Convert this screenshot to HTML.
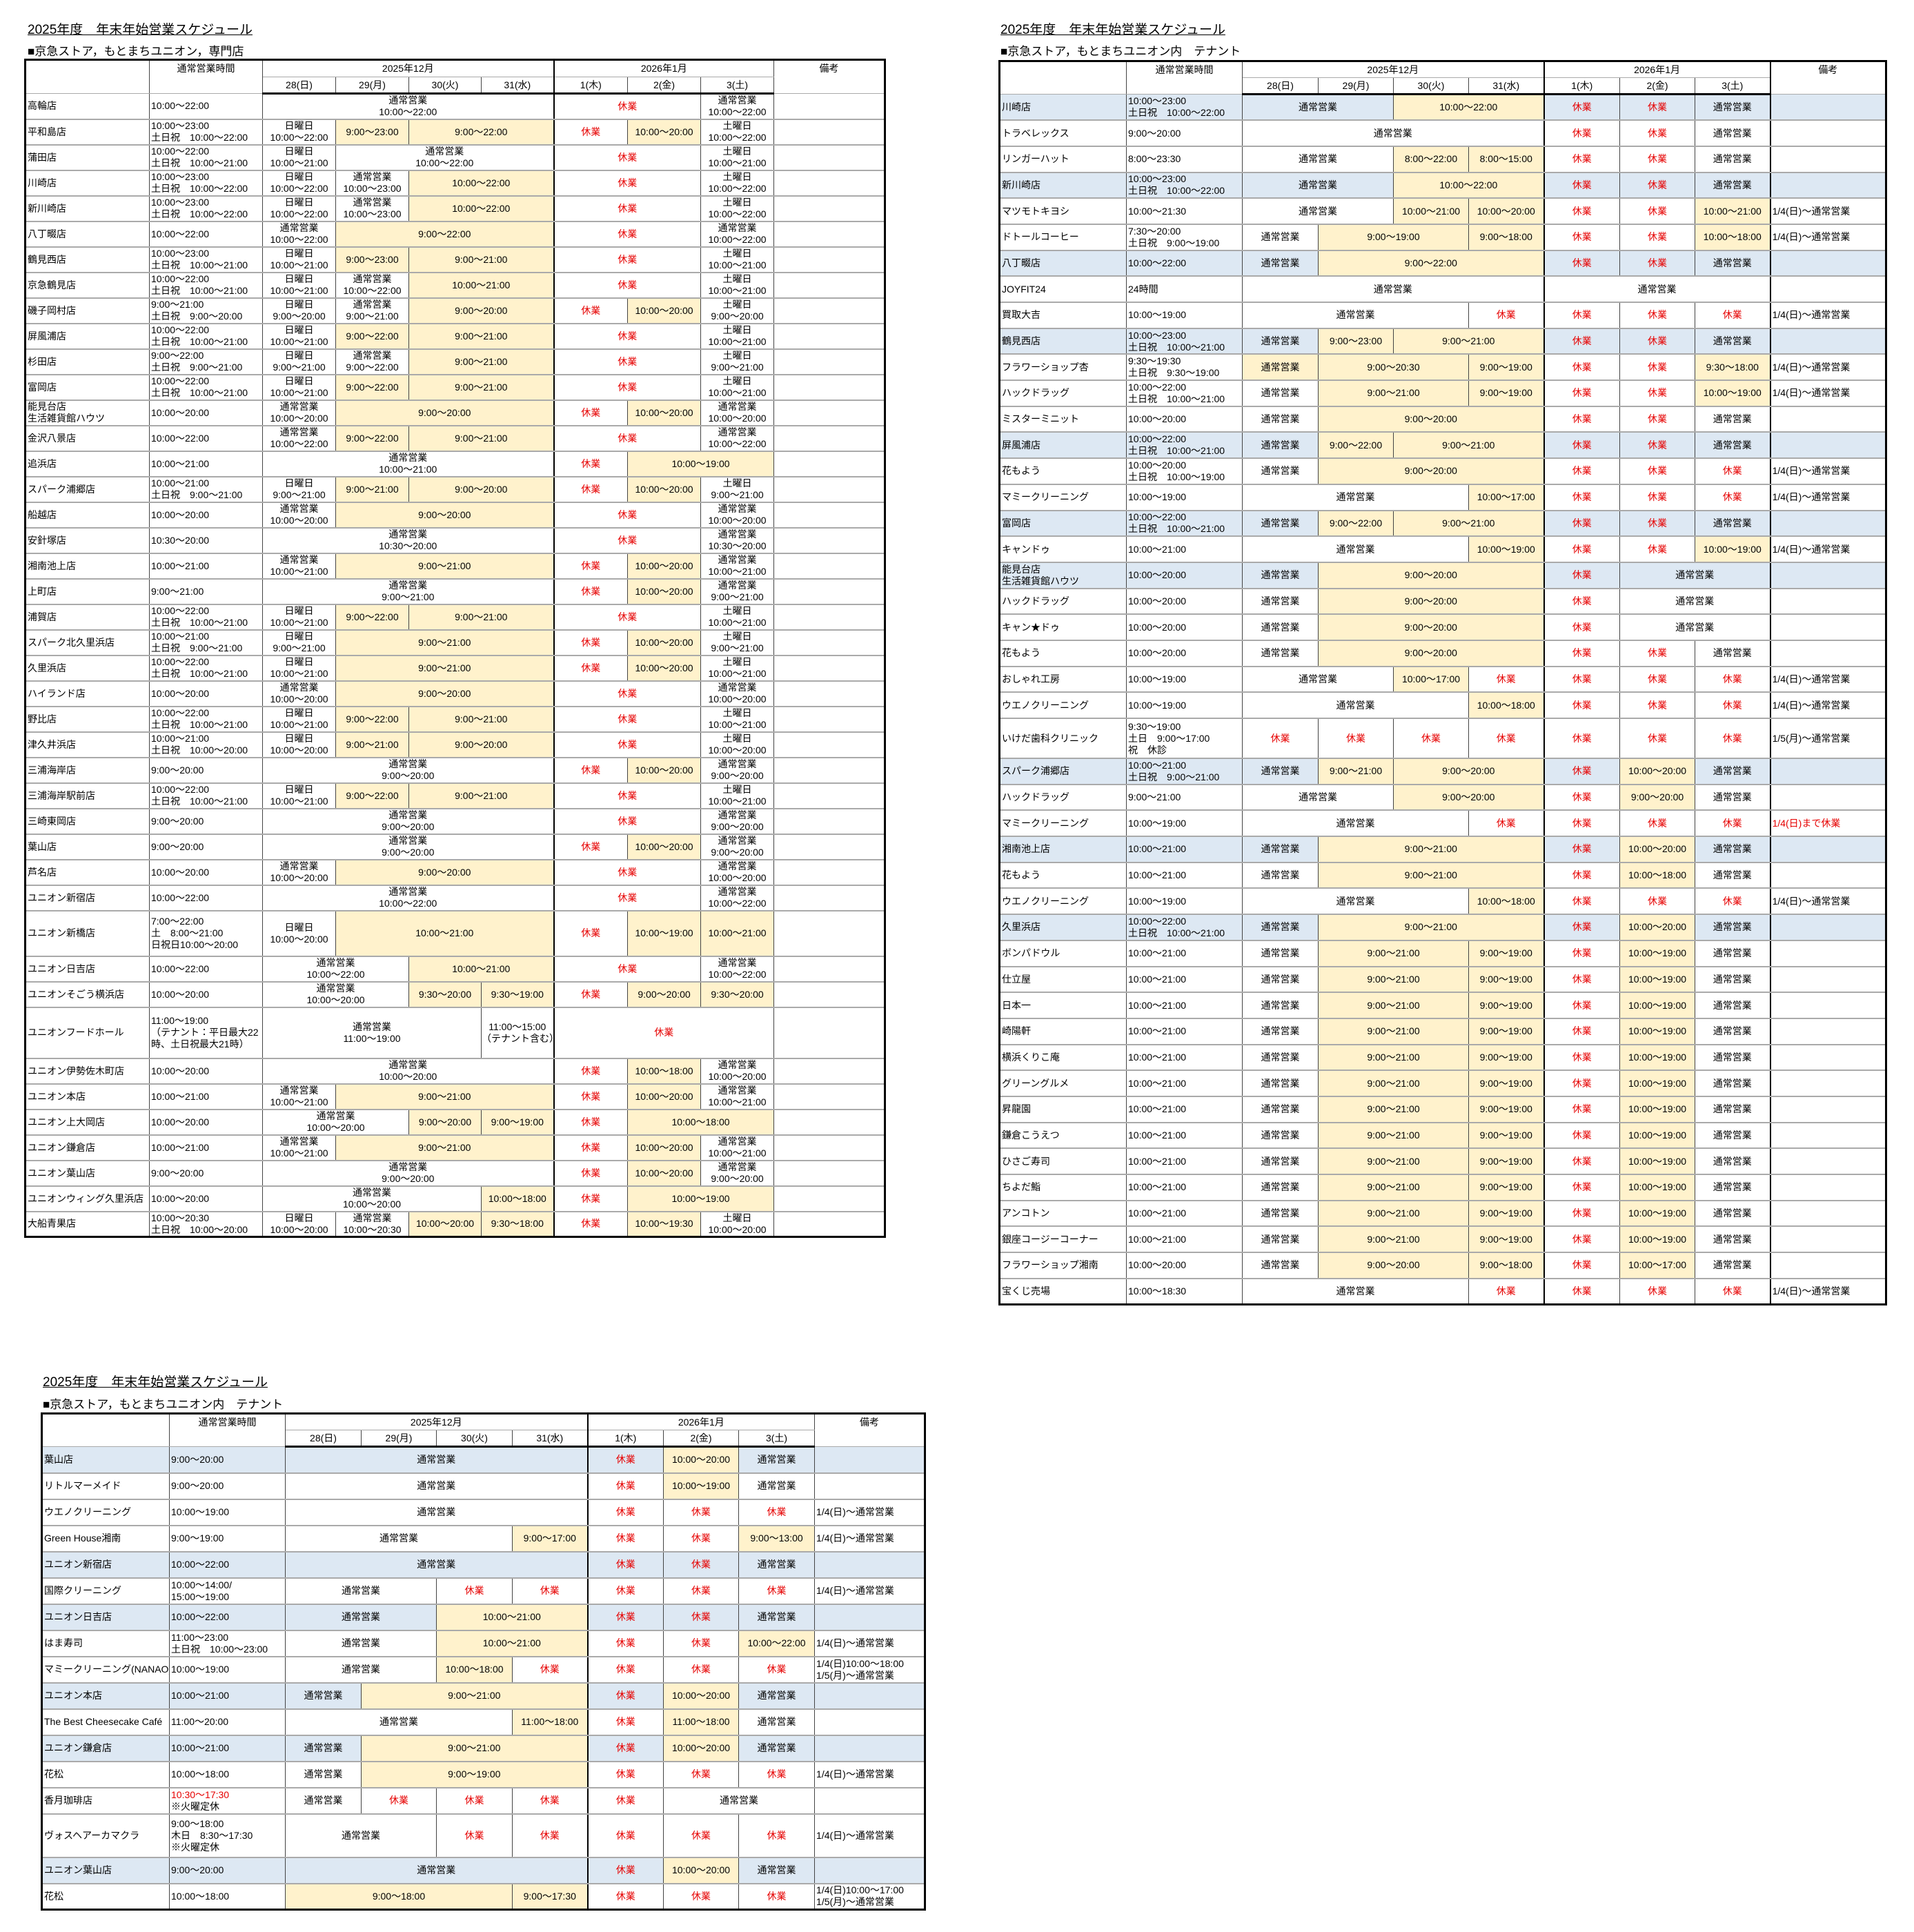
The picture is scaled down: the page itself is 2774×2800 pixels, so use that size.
<!DOCTYPE html>
<html><head><meta charset="utf-8">
<style>
body{margin:0;width:2774px;height:2800px;background:#fff;position:relative;font-family:"Liberation Sans","Noto Sans CJK JP",sans-serif;color:#000}
.t{position:absolute;font-size:19px;text-decoration:underline;white-space:nowrap}
.s{position:absolute;font-size:17px;white-space:nowrap}
table{position:absolute;border-collapse:collapse;table-layout:fixed;font-size:14px;line-height:17px;border:3px solid #000}
td{border-left:1px solid #444;border-right:1px solid #444;border-bottom:2px solid #aaa;text-align:center;vertical-align:middle;padding:0;overflow:hidden;white-space:nowrap}
td.n,td.h{text-align:left;padding-left:2px}
tr.hd td{border-bottom:1px solid #aaa}
tr.hd2 td{border-bottom:3px solid #000}
td.tp{vertical-align:top;padding-top:3px;border-bottom:3px solid #000}
.y{background:#fff2cc}
.r{color:#e60000}
tr.b td{background:#dde8f3}
tr.b td.y{background:#fff2cc}
col.j{border-left:2px solid #000}
</style></head><body>

<div class="t" style="left:40px;top:28px">2025年度　年末年始営業スケジュール</div>
<div class="s" style="left:40px;top:60px">■京急ストア，もとまちユニオン，専門店</div>
<div class="t" style="left:1450px;top:28px">2025年度　年末年始営業スケジュール</div>
<div class="s" style="left:1450px;top:60px">■京急ストア，もとまちユニオン内　テナント</div>
<div class="t" style="left:62px;top:1988px">2025年度　年末年始営業スケジュール</div>
<div class="s" style="left:62px;top:2021px">■京急ストア，もとまちユニオン内　テナント</div>

<!-- TABLE 1 -->
<table style="left:35px;top:85px;width:1246px">
<colgroup><col style="width:180px"><col style="width:164px"><col style="width:106px"><col style="width:106px"><col style="width:105px"><col style="width:105px"><col class="j" style="width:107px"><col style="width:106px"><col style="width:106px"><col style="width:161px"></colgroup>
<tr class="hd" style="height:25px"><td rowspan="2" class="tp"></td><td rowspan="2" class="tp">通常営業時間</td><td colspan="4">2025年12月</td><td colspan="3">2026年1月</td><td rowspan="2" class="tp">備考</td></tr>
<tr class="hd2" style="height:24px"><td>28(日)</td><td>29(月)</td><td>30(火)</td><td>31(水)</td><td>1(木)</td><td>2(金)</td><td>3(土)</td></tr>
<tr style="height:37px"><td class="n">高輪店</td><td class="h">10:00～22:00</td><td colspan="4">通常営業<br>10:00～22:00</td><td colspan="2" class="r">休業</td><td>通常営業<br>10:00～22:00</td><td></td></tr>
<tr style="height:37px"><td class="n">平和島店</td><td class="h">10:00～23:00<br>土日祝　10:00～22:00</td><td>日曜日<br>10:00～22:00</td><td class="y">9:00～23:00</td><td colspan="2" class="y">9:00～22:00</td><td class="r">休業</td><td class="y">10:00～20:00</td><td>土曜日<br>10:00～22:00</td><td></td></tr>
<tr style="height:37px"><td class="n">蒲田店</td><td class="h">10:00～22:00<br>土日祝　10:00～21:00</td><td>日曜日<br>10:00～21:00</td><td colspan="3">通常営業<br>10:00～22:00</td><td colspan="2" class="r">休業</td><td>土曜日<br>10:00～21:00</td><td></td></tr>
<tr style="height:37px"><td class="n">川崎店</td><td class="h">10:00～23:00<br>土日祝　10:00～22:00</td><td>日曜日<br>10:00～22:00</td><td>通常営業<br>10:00～23:00</td><td colspan="2" class="y">10:00～22:00</td><td colspan="2" class="r">休業</td><td>土曜日<br>10:00～22:00</td><td></td></tr>
<tr style="height:37px"><td class="n">新川崎店</td><td class="h">10:00～23:00<br>土日祝　10:00～22:00</td><td>日曜日<br>10:00～22:00</td><td>通常営業<br>10:00～23:00</td><td colspan="2" class="y">10:00～22:00</td><td colspan="2" class="r">休業</td><td>土曜日<br>10:00～22:00</td><td></td></tr>
<tr style="height:37px"><td class="n">八丁畷店</td><td class="h">10:00～22:00</td><td>通常営業<br>10:00～22:00</td><td colspan="3" class="y">9:00～22:00</td><td colspan="2" class="r">休業</td><td>通常営業<br>10:00～22:00</td><td></td></tr>
<tr style="height:37px"><td class="n">鶴見西店</td><td class="h">10:00～23:00<br>土日祝　10:00～21:00</td><td>日曜日<br>10:00～21:00</td><td class="y">9:00～23:00</td><td colspan="2" class="y">9:00～21:00</td><td colspan="2" class="r">休業</td><td>土曜日<br>10:00～21:00</td><td></td></tr>
<tr style="height:37px"><td class="n">京急鶴見店</td><td class="h">10:00～22:00<br>土日祝　10:00～21:00</td><td>日曜日<br>10:00～21:00</td><td>通常営業<br>10:00～22:00</td><td colspan="2" class="y">10:00～21:00</td><td colspan="2" class="r">休業</td><td>土曜日<br>10:00～21:00</td><td></td></tr>
<tr style="height:37px"><td class="n">磯子岡村店</td><td class="h">9:00～21:00<br>土日祝　9:00～20:00</td><td>日曜日<br>9:00～20:00</td><td>通常営業<br>9:00～21:00</td><td colspan="2" class="y">9:00～20:00</td><td class="r">休業</td><td class="y">10:00～20:00</td><td>土曜日<br>9:00～20:00</td><td></td></tr>
<tr style="height:37px"><td class="n">屏風浦店</td><td class="h">10:00～22:00<br>土日祝　10:00～21:00</td><td>日曜日<br>10:00～21:00</td><td class="y">9:00～22:00</td><td colspan="2" class="y">9:00～21:00</td><td colspan="2" class="r">休業</td><td>土曜日<br>10:00～21:00</td><td></td></tr>
<tr style="height:37px"><td class="n">杉田店</td><td class="h">9:00～22:00<br>土日祝　9:00～21:00</td><td>日曜日<br>9:00～21:00</td><td>通常営業<br>9:00～22:00</td><td colspan="2" class="y">9:00～21:00</td><td colspan="2" class="r">休業</td><td>土曜日<br>9:00～21:00</td><td></td></tr>
<tr style="height:37px"><td class="n">富岡店</td><td class="h">10:00～22:00<br>土日祝　10:00～21:00</td><td>日曜日<br>10:00～21:00</td><td class="y">9:00～22:00</td><td colspan="2" class="y">9:00～21:00</td><td colspan="2" class="r">休業</td><td>土曜日<br>10:00～21:00</td><td></td></tr>
<tr style="height:37px"><td class="n">能見台店<br>生活雑貨館ハウツ</td><td class="h">10:00～20:00</td><td>通常営業<br>10:00～20:00</td><td colspan="3" class="y">9:00～20:00</td><td class="r">休業</td><td class="y">10:00～20:00</td><td>通常営業<br>10:00～20:00</td><td></td></tr>
<tr style="height:37px"><td class="n">金沢八景店</td><td class="h">10:00～22:00</td><td>通常営業<br>10:00～22:00</td><td class="y">9:00～22:00</td><td colspan="2" class="y">9:00～21:00</td><td colspan="2" class="r">休業</td><td>通常営業<br>10:00～22:00</td><td></td></tr>
<tr style="height:37px"><td class="n">追浜店</td><td class="h">10:00～21:00</td><td colspan="4">通常営業<br>10:00～21:00</td><td class="r">休業</td><td colspan="2" class="y">10:00～19:00</td><td></td></tr>
<tr style="height:37px"><td class="n">スパーク浦郷店</td><td class="h">10:00～21:00<br>土日祝　9:00～21:00</td><td>日曜日<br>9:00～21:00</td><td class="y">9:00～21:00</td><td colspan="2" class="y">9:00～20:00</td><td class="r">休業</td><td class="y">10:00～20:00</td><td>土曜日<br>9:00～21:00</td><td></td></tr>
<tr style="height:37px"><td class="n">船越店</td><td class="h">10:00～20:00</td><td>通常営業<br>10:00～20:00</td><td colspan="3" class="y">9:00～20:00</td><td colspan="2" class="r">休業</td><td>通常営業<br>10:00～20:00</td><td></td></tr>
<tr style="height:37px"><td class="n">安針塚店</td><td class="h">10:30～20:00</td><td colspan="4">通常営業<br>10:30～20:00</td><td colspan="2" class="r">休業</td><td>通常営業<br>10:30～20:00</td><td></td></tr>
<tr style="height:37px"><td class="n">湘南池上店</td><td class="h">10:00～21:00</td><td>通常営業<br>10:00～21:00</td><td colspan="3" class="y">9:00～21:00</td><td class="r">休業</td><td class="y">10:00～20:00</td><td>通常営業<br>10:00～21:00</td><td></td></tr>
<tr style="height:37px"><td class="n">上町店</td><td class="h">9:00～21:00</td><td colspan="4">通常営業<br>9:00～21:00</td><td class="r">休業</td><td class="y">10:00～20:00</td><td>通常営業<br>9:00～21:00</td><td></td></tr>
<tr style="height:37px"><td class="n">浦賀店</td><td class="h">10:00～22:00<br>土日祝　10:00～21:00</td><td>日曜日<br>10:00～21:00</td><td class="y">9:00～22:00</td><td colspan="2" class="y">9:00～21:00</td><td colspan="2" class="r">休業</td><td>土曜日<br>10:00～21:00</td><td></td></tr>
<tr style="height:37px"><td class="n">スパーク北久里浜店</td><td class="h">10:00～21:00<br>土日祝　9:00～21:00</td><td>日曜日<br>9:00～21:00</td><td colspan="3" class="y">9:00～21:00</td><td class="r">休業</td><td class="y">10:00～20:00</td><td>土曜日<br>9:00～21:00</td><td></td></tr>
<tr style="height:37px"><td class="n">久里浜店</td><td class="h">10:00～22:00<br>土日祝　10:00～21:00</td><td>日曜日<br>10:00～21:00</td><td colspan="3" class="y">9:00～21:00</td><td class="r">休業</td><td class="y">10:00～20:00</td><td>土曜日<br>10:00～21:00</td><td></td></tr>
<tr style="height:37px"><td class="n">ハイランド店</td><td class="h">10:00～20:00</td><td>通常営業<br>10:00～20:00</td><td colspan="3" class="y">9:00～20:00</td><td colspan="2" class="r">休業</td><td>通常営業<br>10:00～20:00</td><td></td></tr>
<tr style="height:37px"><td class="n">野比店</td><td class="h">10:00～22:00<br>土日祝　10:00～21:00</td><td>日曜日<br>10:00～21:00</td><td class="y">9:00～22:00</td><td colspan="2" class="y">9:00～21:00</td><td colspan="2" class="r">休業</td><td>土曜日<br>10:00～21:00</td><td></td></tr>
<tr style="height:37px"><td class="n">津久井浜店</td><td class="h">10:00～21:00<br>土日祝　10:00～20:00</td><td>日曜日<br>10:00～20:00</td><td class="y">9:00～21:00</td><td colspan="2" class="y">9:00～20:00</td><td colspan="2" class="r">休業</td><td>土曜日<br>10:00～20:00</td><td></td></tr>
<tr style="height:37px"><td class="n">三浦海岸店</td><td class="h">9:00～20:00</td><td colspan="4">通常営業<br>9:00～20:00</td><td class="r">休業</td><td class="y">10:00～20:00</td><td>通常営業<br>9:00～20:00</td><td></td></tr>
<tr style="height:37px"><td class="n">三浦海岸駅前店</td><td class="h">10:00～22:00<br>土日祝　10:00～21:00</td><td>日曜日<br>10:00～21:00</td><td class="y">9:00～22:00</td><td colspan="2" class="y">9:00～21:00</td><td colspan="2" class="r">休業</td><td>土曜日<br>10:00～21:00</td><td></td></tr>
<tr style="height:37px"><td class="n">三崎東岡店</td><td class="h">9:00～20:00</td><td colspan="4">通常営業<br>9:00～20:00</td><td colspan="2" class="r">休業</td><td>通常営業<br>9:00～20:00</td><td></td></tr>
<tr style="height:37px"><td class="n">葉山店</td><td class="h">9:00～20:00</td><td colspan="4">通常営業<br>9:00～20:00</td><td class="r">休業</td><td class="y">10:00～20:00</td><td>通常営業<br>9:00～20:00</td><td></td></tr>
<tr style="height:37px"><td class="n">芦名店</td><td class="h">10:00～20:00</td><td>通常営業<br>10:00～20:00</td><td colspan="3" class="y">9:00～20:00</td><td colspan="2" class="r">休業</td><td>通常営業<br>10:00～20:00</td><td></td></tr>
<tr style="height:37px"><td class="n">ユニオン新宿店</td><td class="h">10:00～22:00</td><td colspan="4">通常営業<br>10:00～22:00</td><td colspan="2" class="r">休業</td><td>通常営業<br>10:00～22:00</td><td></td></tr>
<tr style="height:66px"><td class="n">ユニオン新橋店</td><td class="h">7:00～22:00<br>土　8:00～21:00<br>日祝日10:00～20:00</td><td>日曜日<br>10:00～20:00</td><td colspan="3" class="y">10:00～21:00</td><td class="r">休業</td><td class="y">10:00～19:00</td><td class="y">10:00～21:00</td><td></td></tr>
<tr style="height:37px"><td class="n">ユニオン日吉店</td><td class="h">10:00～22:00</td><td colspan="2">通常営業<br>10:00～22:00</td><td colspan="2" class="y">10:00～21:00</td><td colspan="2" class="r">休業</td><td>通常営業<br>10:00～22:00</td><td></td></tr>
<tr style="height:37px"><td class="n">ユニオンそごう横浜店</td><td class="h">10:00～20:00</td><td colspan="2">通常営業<br>10:00～20:00</td><td class="y">9:30～20:00</td><td class="y">9:30～19:00</td><td class="r">休業</td><td class="y">9:00～20:00</td><td class="y">9:30～20:00</td><td></td></tr>
<tr style="height:74px"><td class="n">ユニオンフードホール</td><td class="h">11:00～19:00<br>（テナント：平日最大22<br>時、土日祝最大21時）</td><td colspan="3">通常営業<br>11:00～19:00</td><td>11:00～15:00<br>（テナント含む）</td><td colspan="3" class="r">休業</td><td></td></tr>
<tr style="height:37px"><td class="n">ユニオン伊勢佐木町店</td><td class="h">10:00～20:00</td><td colspan="4">通常営業<br>10:00～20:00</td><td class="r">休業</td><td class="y">10:00～18:00</td><td>通常営業<br>10:00～20:00</td><td></td></tr>
<tr style="height:37px"><td class="n">ユニオン本店</td><td class="h">10:00～21:00</td><td>通常営業<br>10:00～21:00</td><td colspan="3" class="y">9:00～21:00</td><td class="r">休業</td><td class="y">10:00～20:00</td><td>通常営業<br>10:00～21:00</td><td></td></tr>
<tr style="height:37px"><td class="n">ユニオン上大岡店</td><td class="h">10:00～20:00</td><td colspan="2">通常営業<br>10:00～20:00</td><td class="y">9:00～20:00</td><td class="y">9:00～19:00</td><td class="r">休業</td><td colspan="2" class="y">10:00～18:00</td><td></td></tr>
<tr style="height:37px"><td class="n">ユニオン鎌倉店</td><td class="h">10:00～21:00</td><td>通常営業<br>10:00～21:00</td><td colspan="3" class="y">9:00～21:00</td><td class="r">休業</td><td class="y">10:00～20:00</td><td>通常営業<br>10:00～21:00</td><td></td></tr>
<tr style="height:37px"><td class="n">ユニオン葉山店</td><td class="h">9:00～20:00</td><td colspan="4">通常営業<br>9:00～20:00</td><td class="r">休業</td><td class="y">10:00～20:00</td><td>通常営業<br>9:00～20:00</td><td></td></tr>
<tr style="height:37px"><td class="n">ユニオンウィング久里浜店</td><td class="h">10:00～20:00</td><td colspan="3">通常営業<br>10:00～20:00</td><td class="y">10:00～18:00</td><td class="r">休業</td><td colspan="2" class="y">10:00～19:00</td><td></td></tr>
<tr style="height:37px"><td class="n">大船青果店</td><td class="h">10:00～20:30<br>土日祝　10:00～20:00</td><td>日曜日<br>10:00～20:00</td><td>通常営業<br>10:00～20:30</td><td class="y">10:00～20:00</td><td class="y">9:30～18:00</td><td class="r">休業</td><td class="y">10:00～19:30</td><td>土曜日<br>10:00～20:00</td><td></td></tr>
</table>

<!-- TABLE 2 -->
<table style="left:1447px;top:87px;width:1285px">
<colgroup><col style="width:184px"><col style="width:168px"><col style="width:110px"><col style="width:109px"><col style="width:109px"><col style="width:109px"><col class="j" style="width:110px"><col style="width:109px"><col style="width:109px"><col class="j" style="width:168px"></colgroup>
<tr class="hd" style="height:24px"><td rowspan="2" class="tp"></td><td rowspan="2" class="tp">通常営業時間</td><td colspan="4">2025年12月</td><td colspan="3">2026年1月</td><td rowspan="2" class="tp">備考</td></tr>
<tr class="hd2" style="height:24px"><td>28(日)</td><td>29(月)</td><td>30(火)</td><td>31(水)</td><td>1(木)</td><td>2(金)</td><td>3(土)</td></tr>
<tr class="b" style="height:37.7px"><td class="n">川崎店</td><td class="h">10:00～23:00<br>土日祝　10:00～22:00</td><td colspan="2">通常営業</td><td colspan="2" class="y">10:00～22:00</td><td class="r">休業</td><td class="r">休業</td><td>通常営業</td><td></td></tr>
<tr style="height:37.7px"><td class="n">トラベレックス</td><td class="h">9:00～20:00</td><td colspan="4">通常営業</td><td class="r">休業</td><td class="r">休業</td><td>通常営業</td><td></td></tr>
<tr style="height:37.7px"><td class="n">リンガーハット</td><td class="h">8:00～23:30</td><td colspan="2">通常営業</td><td class="y">8:00～22:00</td><td class="y">8:00～15:00</td><td class="r">休業</td><td class="r">休業</td><td>通常営業</td><td></td></tr>
<tr class="b" style="height:37.7px"><td class="n">新川崎店</td><td class="h">10:00～23:00<br>土日祝　10:00～22:00</td><td colspan="2">通常営業</td><td colspan="2" class="y">10:00～22:00</td><td class="r">休業</td><td class="r">休業</td><td>通常営業</td><td></td></tr>
<tr style="height:37.7px"><td class="n">マツモトキヨシ</td><td class="h">10:00～21:30</td><td colspan="2">通常営業</td><td class="y">10:00～21:00</td><td class="y">10:00～20:00</td><td class="r">休業</td><td class="r">休業</td><td class="y">10:00～21:00</td><td class="n">1/4(日)～通常営業</td></tr>
<tr style="height:37.7px"><td class="n">ドトールコーヒー</td><td class="h">7:30～20:00<br>土日祝　9:00～19:00</td><td>通常営業</td><td colspan="2" class="y">9:00～19:00</td><td class="y">9:00～18:00</td><td class="r">休業</td><td class="r">休業</td><td class="y">10:00～18:00</td><td class="n">1/4(日)～通常営業</td></tr>
<tr class="b" style="height:37.7px"><td class="n">八丁畷店</td><td class="h">10:00～22:00</td><td>通常営業</td><td colspan="3" class="y">9:00～22:00</td><td class="r">休業</td><td class="r">休業</td><td>通常営業</td><td></td></tr>
<tr style="height:37.7px"><td class="n">JOYFIT24</td><td class="h">24時間</td><td colspan="4">通常営業</td><td colspan="3">通常営業</td><td></td></tr>
<tr style="height:37.7px"><td class="n">買取大吉</td><td class="h">10:00～19:00</td><td colspan="3">通常営業</td><td class="r">休業</td><td class="r">休業</td><td class="r">休業</td><td class="r">休業</td><td class="n">1/4(日)～通常営業</td></tr>
<tr class="b" style="height:37.7px"><td class="n">鶴見西店</td><td class="h">10:00～23:00<br>土日祝　10:00～21:00</td><td>通常営業</td><td class="y">9:00～23:00</td><td colspan="2" class="y">9:00～21:00</td><td class="r">休業</td><td class="r">休業</td><td>通常営業</td><td></td></tr>
<tr style="height:37.7px"><td class="n">フラワーショップ杏</td><td class="h">9:30～19:30<br>土日祝　9:30～19:00</td><td class="y">通常営業</td><td colspan="2" class="y">9:00～20:30</td><td class="y">9:00～19:00</td><td class="r">休業</td><td class="r">休業</td><td class="y">9:30～18:00</td><td class="n">1/4(日)～通常営業</td></tr>
<tr style="height:37.7px"><td class="n">ハックドラッグ</td><td class="h">10:00～22:00<br>土日祝　10:00～21:00</td><td>通常営業</td><td colspan="2" class="y">9:00～21:00</td><td class="y">9:00～19:00</td><td class="r">休業</td><td class="r">休業</td><td class="y">10:00～19:00</td><td class="n">1/4(日)～通常営業</td></tr>
<tr style="height:37.7px"><td class="n">ミスターミニット</td><td class="h">10:00～20:00</td><td>通常営業</td><td colspan="3" class="y">9:00～20:00</td><td class="r">休業</td><td class="r">休業</td><td>通常営業</td><td></td></tr>
<tr class="b" style="height:37.7px"><td class="n">屏風浦店</td><td class="h">10:00～22:00<br>土日祝　10:00～21:00</td><td>通常営業</td><td class="y">9:00～22:00</td><td colspan="2" class="y">9:00～21:00</td><td class="r">休業</td><td class="r">休業</td><td>通常営業</td><td></td></tr>
<tr style="height:37.7px"><td class="n">花もよう</td><td class="h">10:00～20:00<br>土日祝　10:00～19:00</td><td>通常営業</td><td colspan="3" class="y">9:00～20:00</td><td class="r">休業</td><td class="r">休業</td><td class="r">休業</td><td class="n">1/4(日)～通常営業</td></tr>
<tr style="height:37.7px"><td class="n">マミークリーニング</td><td class="h">10:00～19:00</td><td colspan="3">通常営業</td><td class="y">10:00～17:00</td><td class="r">休業</td><td class="r">休業</td><td class="r">休業</td><td class="n">1/4(日)～通常営業</td></tr>
<tr class="b" style="height:37.7px"><td class="n">富岡店</td><td class="h">10:00～22:00<br>土日祝　10:00～21:00</td><td>通常営業</td><td class="y">9:00～22:00</td><td colspan="2" class="y">9:00～21:00</td><td class="r">休業</td><td class="r">休業</td><td>通常営業</td><td></td></tr>
<tr style="height:37.7px"><td class="n">キャンドゥ</td><td class="h">10:00～21:00</td><td colspan="3">通常営業</td><td class="y">10:00～19:00</td><td class="r">休業</td><td class="r">休業</td><td class="y">10:00～19:00</td><td class="n">1/4(日)～通常営業</td></tr>
<tr class="b" style="height:37.7px"><td class="n">能見台店<br>生活雑貨館ハウツ</td><td class="h">10:00～20:00</td><td>通常営業</td><td colspan="3" class="y">9:00～20:00</td><td class="r">休業</td><td colspan="2">通常営業</td><td></td></tr>
<tr style="height:37.7px"><td class="n">ハックドラッグ</td><td class="h">10:00～20:00</td><td>通常営業</td><td colspan="3" class="y">9:00～20:00</td><td class="r">休業</td><td colspan="2">通常営業</td><td></td></tr>
<tr style="height:37.7px"><td class="n">キャン★ドゥ</td><td class="h">10:00～20:00</td><td>通常営業</td><td colspan="3" class="y">9:00～20:00</td><td class="r">休業</td><td colspan="2">通常営業</td><td></td></tr>
<tr style="height:37.7px"><td class="n">花もよう</td><td class="h">10:00～20:00</td><td>通常営業</td><td colspan="3" class="y">9:00～20:00</td><td class="r">休業</td><td class="r">休業</td><td>通常営業</td><td></td></tr>
<tr style="height:37.7px"><td class="n">おしゃれ工房</td><td class="h">10:00～19:00</td><td colspan="2">通常営業</td><td class="y">10:00～17:00</td><td class="r">休業</td><td class="r">休業</td><td class="r">休業</td><td class="r">休業</td><td class="n">1/4(日)～通常営業</td></tr>
<tr style="height:37.7px"><td class="n">ウエノクリーニング</td><td class="h">10:00～19:00</td><td colspan="3">通常営業</td><td class="y">10:00～18:00</td><td class="r">休業</td><td class="r">休業</td><td class="r">休業</td><td class="n">1/4(日)～通常営業</td></tr>
<tr style="height:58px"><td class="n">いけだ歯科クリニック</td><td class="h">9:30～19:00<br>土日　9:00～17:00<br>祝　休診</td><td class="r">休業</td><td class="r">休業</td><td class="r">休業</td><td class="r">休業</td><td class="r">休業</td><td class="r">休業</td><td class="r">休業</td><td class="n">1/5(月)～通常営業</td></tr>
<tr class="b" style="height:37.7px"><td class="n">スパーク浦郷店</td><td class="h">10:00～21:00<br>土日祝　9:00～21:00</td><td>通常営業</td><td class="y">9:00～21:00</td><td colspan="2" class="y">9:00～20:00</td><td class="r">休業</td><td class="y">10:00～20:00</td><td>通常営業</td><td></td></tr>
<tr style="height:37.7px"><td class="n">ハックドラッグ</td><td class="h">9:00～21:00</td><td colspan="2">通常営業</td><td colspan="2" class="y">9:00～20:00</td><td class="r">休業</td><td class="y">9:00～20:00</td><td>通常営業</td><td></td></tr>
<tr style="height:37.7px"><td class="n">マミークリーニング</td><td class="h">10:00～19:00</td><td colspan="3">通常営業</td><td class="r">休業</td><td class="r">休業</td><td class="r">休業</td><td class="r">休業</td><td class="n r">1/4(日)まで休業</td></tr>
<tr class="b" style="height:37.7px"><td class="n">湘南池上店</td><td class="h">10:00～21:00</td><td>通常営業</td><td colspan="3" class="y">9:00～21:00</td><td class="r">休業</td><td class="y">10:00～20:00</td><td>通常営業</td><td></td></tr>
<tr style="height:37.7px"><td class="n">花もよう</td><td class="h">10:00～21:00</td><td>通常営業</td><td colspan="3" class="y">9:00～21:00</td><td class="r">休業</td><td class="y">10:00～18:00</td><td>通常営業</td><td></td></tr>
<tr style="height:37.7px"><td class="n">ウエノクリーニング</td><td class="h">10:00～19:00</td><td colspan="3">通常営業</td><td class="y">10:00～18:00</td><td class="r">休業</td><td class="r">休業</td><td class="r">休業</td><td class="n">1/4(日)～通常営業</td></tr>
<tr class="b" style="height:37.7px"><td class="n">久里浜店</td><td class="h">10:00～22:00<br>土日祝　10:00～21:00</td><td>通常営業</td><td colspan="3" class="y">9:00～21:00</td><td class="r">休業</td><td class="y">10:00～20:00</td><td>通常営業</td><td></td></tr>
<tr style="height:37.7px"><td class="n">ボンパドウル</td><td class="h">10:00～21:00</td><td>通常営業</td><td colspan="2" class="y">9:00～21:00</td><td class="y">9:00～19:00</td><td class="r">休業</td><td class="y">10:00～19:00</td><td>通常営業</td><td></td></tr>
<tr style="height:37.7px"><td class="n">仕立屋</td><td class="h">10:00～21:00</td><td>通常営業</td><td colspan="2" class="y">9:00～21:00</td><td class="y">9:00～19:00</td><td class="r">休業</td><td class="y">10:00～19:00</td><td>通常営業</td><td></td></tr>
<tr style="height:37.7px"><td class="n">日本一</td><td class="h">10:00～21:00</td><td>通常営業</td><td colspan="2" class="y">9:00～21:00</td><td class="y">9:00～19:00</td><td class="r">休業</td><td class="y">10:00～19:00</td><td>通常営業</td><td></td></tr>
<tr style="height:37.7px"><td class="n">崎陽軒</td><td class="h">10:00～21:00</td><td>通常営業</td><td colspan="2" class="y">9:00～21:00</td><td class="y">9:00～19:00</td><td class="r">休業</td><td class="y">10:00～19:00</td><td>通常営業</td><td></td></tr>
<tr style="height:37.7px"><td class="n">横浜くりこ庵</td><td class="h">10:00～21:00</td><td>通常営業</td><td colspan="2" class="y">9:00～21:00</td><td class="y">9:00～19:00</td><td class="r">休業</td><td class="y">10:00～19:00</td><td>通常営業</td><td></td></tr>
<tr style="height:37.7px"><td class="n">グリーングルメ</td><td class="h">10:00～21:00</td><td>通常営業</td><td colspan="2" class="y">9:00～21:00</td><td class="y">9:00～19:00</td><td class="r">休業</td><td class="y">10:00～19:00</td><td>通常営業</td><td></td></tr>
<tr style="height:37.7px"><td class="n">昇龍園</td><td class="h">10:00～21:00</td><td>通常営業</td><td colspan="2" class="y">9:00～21:00</td><td class="y">9:00～19:00</td><td class="r">休業</td><td class="y">10:00～19:00</td><td>通常営業</td><td></td></tr>
<tr style="height:37.7px"><td class="n">鎌倉こうえつ</td><td class="h">10:00～21:00</td><td>通常営業</td><td colspan="2" class="y">9:00～21:00</td><td class="y">9:00～19:00</td><td class="r">休業</td><td class="y">10:00～19:00</td><td>通常営業</td><td></td></tr>
<tr style="height:37.7px"><td class="n">ひさご寿司</td><td class="h">10:00～21:00</td><td>通常営業</td><td colspan="2" class="y">9:00～21:00</td><td class="y">9:00～19:00</td><td class="r">休業</td><td class="y">10:00～19:00</td><td>通常営業</td><td></td></tr>
<tr style="height:37.7px"><td class="n">ちよだ鮨</td><td class="h">10:00～21:00</td><td>通常営業</td><td colspan="2" class="y">9:00～21:00</td><td class="y">9:00～19:00</td><td class="r">休業</td><td class="y">10:00～19:00</td><td>通常営業</td><td></td></tr>
<tr style="height:37.7px"><td class="n">アンコトン</td><td class="h">10:00～21:00</td><td>通常営業</td><td colspan="2" class="y">9:00～21:00</td><td class="y">9:00～19:00</td><td class="r">休業</td><td class="y">10:00～19:00</td><td>通常営業</td><td></td></tr>
<tr style="height:37.7px"><td class="n">銀座コージーコーナー</td><td class="h">10:00～21:00</td><td>通常営業</td><td colspan="2" class="y">9:00～21:00</td><td class="y">9:00～19:00</td><td class="r">休業</td><td class="y">10:00～19:00</td><td>通常営業</td><td></td></tr>
<tr style="height:37.7px"><td class="n">フラワーショップ湘南</td><td class="h">10:00～20:00</td><td>通常営業</td><td colspan="2" class="y">9:00～20:00</td><td class="y">9:00～18:00</td><td class="r">休業</td><td class="y">10:00～17:00</td><td>通常営業</td><td></td></tr>
<tr style="height:37.7px"><td class="n">宝くじ売場</td><td class="h">10:00～18:30</td><td colspan="3">通常営業</td><td class="r">休業</td><td class="r">休業</td><td class="r">休業</td><td class="r">休業</td><td class="n">1/4(日)～通常営業</td></tr>
</table>

<!-- TABLE 3 -->
<table style="left:59px;top:2047px;width:1280px">
<colgroup><col style="width:185px"><col style="width:168px"><col style="width:110px"><col style="width:109px"><col style="width:110px"><col style="width:109px"><col class="j" style="width:110px"><col style="width:109px"><col style="width:110px"><col style="width:160px"></colgroup>
<tr class="hd" style="height:24px"><td rowspan="2" class="tp"></td><td rowspan="2" class="tp">通常営業時間</td><td colspan="4">2025年12月</td><td colspan="3">2026年1月</td><td rowspan="2" class="tp">備考</td></tr>
<tr class="hd2" style="height:24px"><td>28(日)</td><td>29(月)</td><td>30(火)</td><td>31(水)</td><td>1(木)</td><td>2(金)</td><td>3(土)</td></tr>
<tr class="b" style="height:38px"><td class="n">葉山店</td><td class="h">9:00～20:00</td><td colspan="4">通常営業</td><td class="r">休業</td><td class="y">10:00～20:00</td><td>通常営業</td><td></td></tr>
<tr style="height:38px"><td class="n">リトルマーメイド</td><td class="h">9:00～20:00</td><td colspan="4">通常営業</td><td class="r">休業</td><td class="y">10:00～19:00</td><td>通常営業</td><td></td></tr>
<tr style="height:38px"><td class="n">ウエノクリーニング</td><td class="h">10:00～19:00</td><td colspan="4">通常営業</td><td class="r">休業</td><td class="r">休業</td><td class="r">休業</td><td class="n">1/4(日)～通常営業</td></tr>
<tr style="height:38px"><td class="n">Green House湘南</td><td class="h">9:00～19:00</td><td colspan="3">通常営業</td><td class="y">9:00～17:00</td><td class="r">休業</td><td class="r">休業</td><td class="y">9:00～13:00</td><td class="n">1/4(日)～通常営業</td></tr>
<tr class="b" style="height:38px"><td class="n">ユニオン新宿店</td><td class="h">10:00～22:00</td><td colspan="4">通常営業</td><td class="r">休業</td><td class="r">休業</td><td>通常営業</td><td></td></tr>
<tr style="height:38px"><td class="n">国際クリーニング</td><td class="h">10:00～14:00/<br>15:00～19:00</td><td colspan="2">通常営業</td><td class="r">休業</td><td class="r">休業</td><td class="r">休業</td><td class="r">休業</td><td class="r">休業</td><td class="n">1/4(日)～通常営業</td></tr>
<tr class="b" style="height:38px"><td class="n">ユニオン日吉店</td><td class="h">10:00～22:00</td><td colspan="2">通常営業</td><td colspan="2" class="y">10:00～21:00</td><td class="r">休業</td><td class="r">休業</td><td>通常営業</td><td></td></tr>
<tr style="height:38px"><td class="n">はま寿司</td><td class="h">11:00～23:00<br>土日祝　10:00～23:00</td><td colspan="2">通常営業</td><td colspan="2" class="y">10:00～21:00</td><td class="r">休業</td><td class="r">休業</td><td class="y">10:00～22:00</td><td class="n">1/4(日)～通常営業</td></tr>
<tr style="height:38px"><td class="n">マミークリーニング(NANAO)</td><td class="h">10:00～19:00</td><td colspan="2">通常営業</td><td class="y">10:00～18:00</td><td class="r">休業</td><td class="r">休業</td><td class="r">休業</td><td class="r">休業</td><td class="n">1/4(日)10:00～18:00<br>1/5(月)～通常営業</td></tr>
<tr class="b" style="height:38px"><td class="n">ユニオン本店</td><td class="h">10:00～21:00</td><td>通常営業</td><td colspan="3" class="y">9:00～21:00</td><td class="r">休業</td><td class="y">10:00～20:00</td><td>通常営業</td><td></td></tr>
<tr style="height:38px"><td class="n">The Best Cheesecake Café</td><td class="h">11:00～20:00</td><td colspan="3">通常営業</td><td class="y">11:00～18:00</td><td class="r">休業</td><td class="y">11:00～18:00</td><td>通常営業</td><td></td></tr>
<tr class="b" style="height:38px"><td class="n">ユニオン鎌倉店</td><td class="h">10:00～21:00</td><td>通常営業</td><td colspan="3" class="y">9:00～21:00</td><td class="r">休業</td><td class="y">10:00～20:00</td><td>通常営業</td><td></td></tr>
<tr style="height:38px"><td class="n">花松</td><td class="h">10:00～18:00</td><td>通常営業</td><td colspan="3" class="y">9:00～19:00</td><td class="r">休業</td><td class="r">休業</td><td class="r">休業</td><td class="n">1/4(日)～通常営業</td></tr>
<tr style="height:38px"><td class="n">香月珈琲店</td><td class="h"><span class="r">10:30～17:30</span><br>※火曜定休</td><td>通常営業</td><td class="r">休業</td><td class="r">休業</td><td class="r">休業</td><td class="r">休業</td><td colspan="2">通常営業</td><td></td></tr>
<tr style="height:63px"><td class="n">ヴォスヘアーカマクラ</td><td class="h">9:00～18:00<br>木日　8:30～17:30<br>※火曜定休</td><td colspan="2">通常営業</td><td class="r">休業</td><td class="r">休業</td><td class="r">休業</td><td class="r">休業</td><td class="r">休業</td><td class="n">1/4(日)～通常営業</td></tr>
<tr class="b" style="height:38px"><td class="n">ユニオン葉山店</td><td class="h">9:00～20:00</td><td colspan="4">通常営業</td><td class="r">休業</td><td class="y">10:00～20:00</td><td>通常営業</td><td></td></tr>
<tr style="height:38px"><td class="n">花松</td><td class="h">10:00～18:00</td><td colspan="3" class="y">9:00～18:00</td><td class="y">9:00～17:30</td><td class="r">休業</td><td class="r">休業</td><td class="r">休業</td><td class="n">1/4(日)10:00～17:00<br>1/5(月)～通常営業</td></tr>
</table>

</body></html>
